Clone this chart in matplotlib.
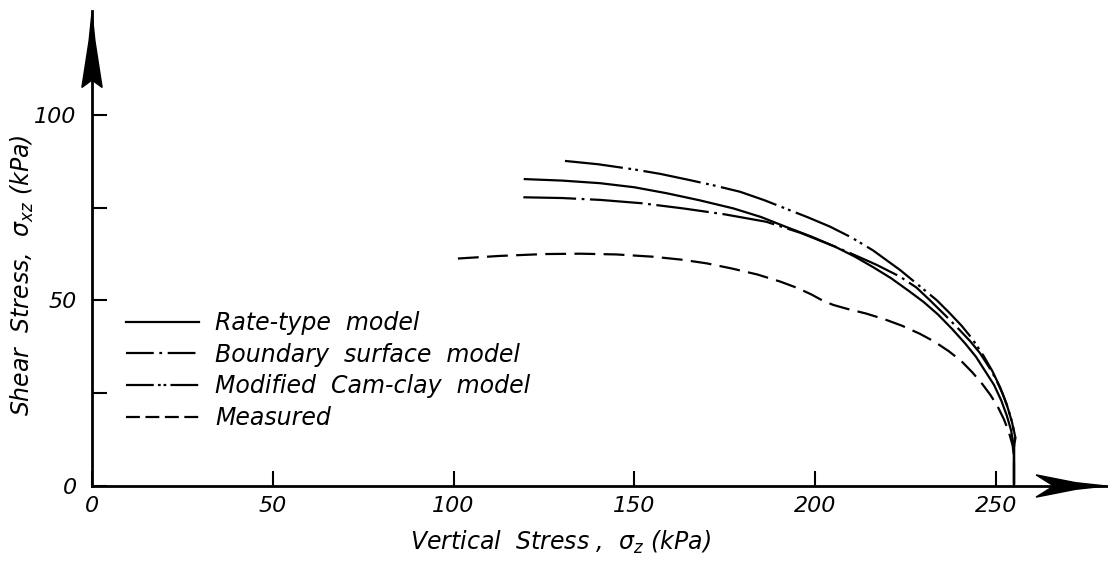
import numpy as np
import matplotlib.pyplot as plt
from matplotlib.patches import Polygon
from matplotlib.lines import Line2D

plt.rcParams['font.family'] = ['DejaVu Sans']
plt.rcParams['mathtext.fontset'] = 'dejavusans'
plt.rcParams['lines.scale_dashes'] = False

# -- stress paths, sigma_z vs sigma_xz (kPa)
rate_x = [119.7, 130, 140.5, 150, 158.9, 168, 177.4, 185, 192, 199, 205.5, 211, 216, 221, 226, 230,
          234, 238, 241.5, 244.5, 247, 249.5, 251.5, 253, 254.2, 255, 255]
rate_y = [82.7, 82.3, 81.6, 80.5, 78.9, 77.0, 74.8, 72.5, 69.8, 67.2, 64.5, 61.8, 59.0, 56.0, 52.5, 49.6,
          46.2, 42.2, 38.4, 34.8, 31.0, 27.2, 23.0, 19.0, 15.0, 10.5, 0]

bound_x = [119.3, 130, 140.5, 152, 163.5, 175, 186.5, 196, 205.5, 211, 217, 223.5, 228, 231.7, 236.4,
           240, 243, 245.6, 248, 250, 251.8, 253.3, 254.5, 255.3, 255, 255]
bound_y = [77.8, 77.6, 77.1, 76.2, 74.8, 73.2, 71.2, 68.2, 64.5, 62.2, 59.6, 56.4, 53.5, 50.1, 45.6,
           42.0, 38.9, 35.8, 32.2, 28.8, 25.0, 21.0, 17.0, 13.0, 10.5, 0]

cam_x = [130.8, 140, 150, 157.2, 165, 172, 179.2, 186, 192, 198, 204.1, 210, 216, 223.5, 228, 233.6,
         237, 240.5, 243.5, 246.5, 249, 251.2, 253, 254.4, 255.4, 255, 255]
cam_y = [87.6, 86.7, 85.3, 84.1, 82.5, 81.0, 79.3, 77.0, 74.7, 72.4, 69.9, 67.0, 63.5, 58.2, 54.6, 50.1,
         46.8, 43.2, 39.6, 35.2, 31.0, 26.5, 22.0, 17.5, 13.0, 10.5, 0]

meas_x = [101.2, 112.8, 125, 135, 145, 155, 163, 170, 177, 184, 190.3, 195, 199, 202, 205, 209, 214,
          219, 224, 229, 233, 237, 240.5, 243.5, 246.3, 248.5, 250.5, 252.2, 253.6, 254.6, 255, 255]
meas_y = [61.3, 62.0, 62.5, 62.6, 62.4, 61.8, 61.0, 60.0, 58.6, 57.0, 55.1, 53.4, 51.6, 50.0, 48.8, 47.7,
          46.5, 45.0, 43.2, 41.0, 38.9, 36.3, 33.6, 30.6, 27.4, 24.5, 21.4, 18.0, 14.5, 11.0, 8.0, 0]

labels = ['Rate-type  model', 'Boundary  surface  model', 'Modified  Cam-clay  model', 'Measured']

x_ticks = [0, 50, 100, 150, 200, 250]
y_ticks = [0, 50, 100]
y_minor = [25, 75]

fig = plt.figure(figsize=(11.08, 5.61), dpi=100)
ax = fig.add_axes([92 / 1108, 75 / 561, 1016 / 1108, 475 / 561])
ax.set_xlim(0, 281)
ax.set_ylim(0, 128)

lw = 1.6
ax.plot(rate_x, rate_y, color='black', lw=lw, ls='-')
ax.plot(bound_x, bound_y, color='black', lw=lw, dashes=(38, 4, 2, 4))
ax.plot(cam_x, cam_y, color='black', lw=lw, dashes=(42, 4, 2, 3, 2, 4))
ax.plot(meas_x, meas_y, color='black', lw=lw, dashes=(15, 6))

for s in ['top', 'right']:
    ax.spines[s].set_visible(False)
for s in ['left', 'bottom']:
    ax.spines[s].set_linewidth(2)

ax.set_xticks(x_ticks)
ax.set_xticklabels([str(v) for v in x_ticks])
ax.set_yticks(y_ticks)
ax.set_yticklabels([str(v) for v in y_ticks])
ax.set_yticks(y_minor, minor=True)
ax.tick_params(axis='both', which='both', direction='in', length=11, width=1.5, labelsize=16)
ax.tick_params(axis='x', pad=7)
ax.tick_params(axis='y', pad=11)
for t in ax.get_xticklabels() + ax.get_yticklabels():
    t.set_style('italic')

# arrow heads on both axes (slightly concave sides, notched back)
xa = Polygon([[280.5, 0], [272.0, 0.9], [261.1, 3.0], [266.0, 0], [261.1, -3.0], [272.0, -0.9]],
             closed=True, color='black', clip_on=False, zorder=5)
ya = Polygon([[0, 127.6], [0.8, 120.0], [2.8, 107.4], [0, 109.4], [-2.8, 107.4], [-0.8, 120.0]],
             closed=True, color='black', clip_on=False, zorder=5)
ax.add_patch(xa)
ax.add_patch(ya)

fig.text(560 / 1108, 1 - 542 / 561, 'Vertical  Stress ,  σ$_z$ (kPa)', fontsize=17,
         style='italic', ha='center', va='center')
fig.text(22 / 1108, 1 - 275 / 561, 'Shear  Stress,  σ$_{xz}$ (kPa)', fontsize=17,
         style='italic', ha='center', va='center', rotation=90)

# legend keys use shorter dash patterns so the dots show in the short sample
handles = [Line2D([], [], color='black', lw=lw, ls='-'),
           Line2D([], [], color='black', lw=lw, dashes=(20, 4, 2, 4)),
           Line2D([], [], color='black', lw=lw, dashes=(20, 3, 2, 2, 2, 3)),
           Line2D([], [], color='black', lw=lw, dashes=(10, 4))]
leg = ax.legend(handles, labels, loc='center left',
                bbox_to_anchor=(126 / 1108, 1 - 370.5 / 561), bbox_transform=fig.transFigure,
                frameon=False, fontsize=17, handlelength=3.1, handletextpad=0.68,
                labelspacing=0.33, borderpad=0, borderaxespad=0)
for t in leg.get_texts():
    t.set_style('italic')

plt.savefig('out.png', dpi=100)
plt.close()
